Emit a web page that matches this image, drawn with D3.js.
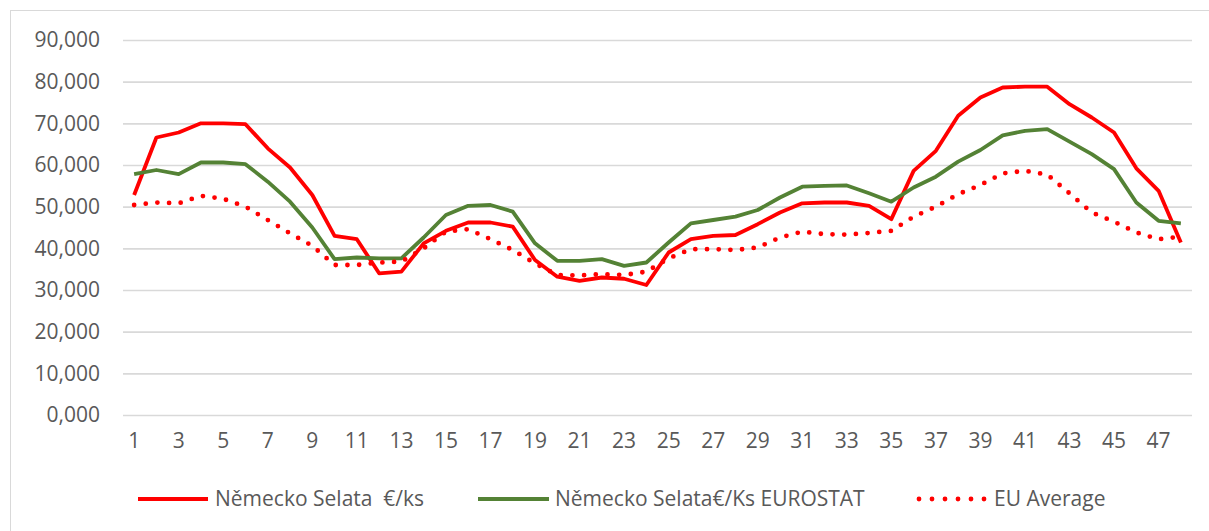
<!DOCTYPE html>
<html>
<head>
<meta charset="utf-8">
<script src="https://cdn.jsdelivr.net/npm/d3@7"></script>
<style>
  html, body { margin: 0; padding: 0; background: #fff; }
  svg { display: block; }
  text { font-family: "Open Sans", "Noto Sans", sans-serif; fill: #595959; }
</style>
</head>
<body>
<svg id="chart" width="1209" height="531"></svg>
<script>
// ---- data ----
const categories = d3.range(1, 49);
const yTicks = [0, 10, 20, 30, 40, 50, 60, 70, 80, 90];
const seriesNames = ["Německo Selata  €/ks", "Německo Selata€/Ks EUROSTAT", "EU Average"];
const nemeckoSelata = [52.8, 66.6, 67.8, 70.0, 70.0, 69.8, 64.0, 59.4, 52.8, 43.0, 42.2, 34.0, 34.4, 41.2, 44.2, 46.2, 46.2, 45.2, 37.2, 33.2, 32.2, 33.0, 32.7, 31.2, 39.0, 42.2, 43.0, 43.2, 45.8, 48.6, 50.8, 51.0, 51.0, 50.2, 47.0, 58.6, 63.4, 71.8, 76.2, 78.6, 78.8, 78.8, 74.6, 71.4, 67.8, 59.2, 53.8, 41.4];
const nemeckoEurostat = [57.8, 58.8, 57.8, 60.6, 60.6, 60.2, 56.0, 51.2, 45.0, 37.4, 37.8, 37.6, 37.6, 42.6, 48.0, 50.2, 50.4, 48.8, 41.2, 37.0, 37.0, 37.4, 35.8, 36.6, 41.4, 46.0, 46.8, 47.6, 49.2, 52.2, 54.8, 55.0, 55.1, 53.2, 51.2, 54.6, 57.2, 60.8, 63.6, 67.1, 68.2, 68.6, 65.6, 62.6, 59.0, 51.0, 46.6, 46.0];
const euAverage = [50.4, 51.0, 50.8, 52.6, 51.9, 50.0, 46.8, 43.6, 40.6, 36.0, 36.0, 36.6, 36.8, 40.0, 44.0, 44.6, 42.2, 39.6, 36.4, 33.6, 33.5, 33.8, 33.6, 34.4, 37.6, 39.8, 39.8, 39.6, 40.2, 42.6, 44.0, 43.4, 43.3, 43.7, 44.2, 47.6, 50.0, 53.0, 55.2, 58.0, 58.6, 57.7, 53.2, 48.6, 46.4, 43.8, 42.2, 42.8];

// ---- layout ----
const svg = d3.select("#chart");
const plot = { left: 123, right: 1192, top: 40, bottom: 415 };
const fontSize = 21;

const locale = d3.formatLocale({ decimal: ",", thousands: " ", grouping: [3], currency: ["", " €"] });
const fmt = locale.format(".3f");

const x = d3.scaleBand().domain(categories).range([plot.left, plot.right]);
const y = d3.scaleLinear().domain([0, 90]).range([plot.bottom, plot.top]);
const cx = d => x(d) + x.bandwidth() / 2;

// outer border
svg.append("rect").attr("x", 10.5).attr("y", 10.5).attr("width", 1300).attr("height", 600)
  .attr("fill", "none").attr("stroke", "#d9d9d9").attr("stroke-width", 1);

// gridlines + y axis labels
const yAxis = d3.axisLeft(y).tickValues(yTicks).tickFormat(fmt)
  .tickSize(-(plot.right - plot.left)).tickPadding(23);
const gy = svg.append("g").attr("transform", `translate(${plot.left},0)`).call(yAxis);
gy.select(".domain").remove();
gy.selectAll(".tick line").attr("stroke", "#d9d9d9").attr("stroke-width", 1.6);
gy.selectAll(".tick text").attr("font-size", fontSize).attr("fill", "#595959")
  .style("font-family", "'Open Sans', sans-serif");

// x axis labels (every other category)
const xAxis = d3.axisBottom(x).tickValues(categories.filter(c => c % 2 === 1)).tickSize(0).tickPadding(18);
const gx = svg.append("g").attr("transform", `translate(0,${plot.bottom})`).call(xAxis);
gx.select(".domain").remove();
gx.selectAll(".tick text").attr("font-size", fontSize).attr("fill", "#595959")
  .style("font-family", "'Open Sans', sans-serif");

// lines
const line = d3.line().x((d, i) => cx(categories[i])).y(d => y(d));
const series = [
  { name: seriesNames[0], values: nemeckoSelata, color: "#ff0000", width: 3.8, dash: null },
  { name: seriesNames[1], values: nemeckoEurostat, color: "#548235", width: 3.8, dash: null },
  { name: seriesNames[2], values: euAverage, color: "#ff0000", width: 4.8, dash: "0 11.7" }
];
series.forEach(s => {
  svg.append("path").datum(s.values).attr("d", line)
    .attr("fill", "none").attr("stroke", s.color).attr("stroke-width", s.width)
    .attr("stroke-linecap", s.dash ? "round" : "butt")
    .attr("stroke-linejoin", "round")
    .attr("stroke-dasharray", s.dash);
});

// legend
const legendY = 499;
const legendItems = [
  { x0: 138, x1: 208, tx: 215 },
  { x0: 478, x1: 549, tx: 555 },
  { x0: 919, x1: 985, tx: 994 }
];
series.forEach((s, i) => {
  const L = legendItems[i];
  svg.append("line").attr("x1", L.x0).attr("x2", L.x1).attr("y1", legendY).attr("y2", legendY)
    .attr("stroke", s.color).attr("stroke-width", s.width)
    .attr("stroke-linecap", s.dash ? "round" : "butt")
    .attr("stroke-dasharray", s.dash ? "0 13" : null);
  svg.append("text").attr("x", L.tx).attr("y", legendY).attr("dy", "0.35em")
    .attr("font-size", fontSize).style("white-space", "pre").text(s.name);
});
</script>
</body>
</html>
